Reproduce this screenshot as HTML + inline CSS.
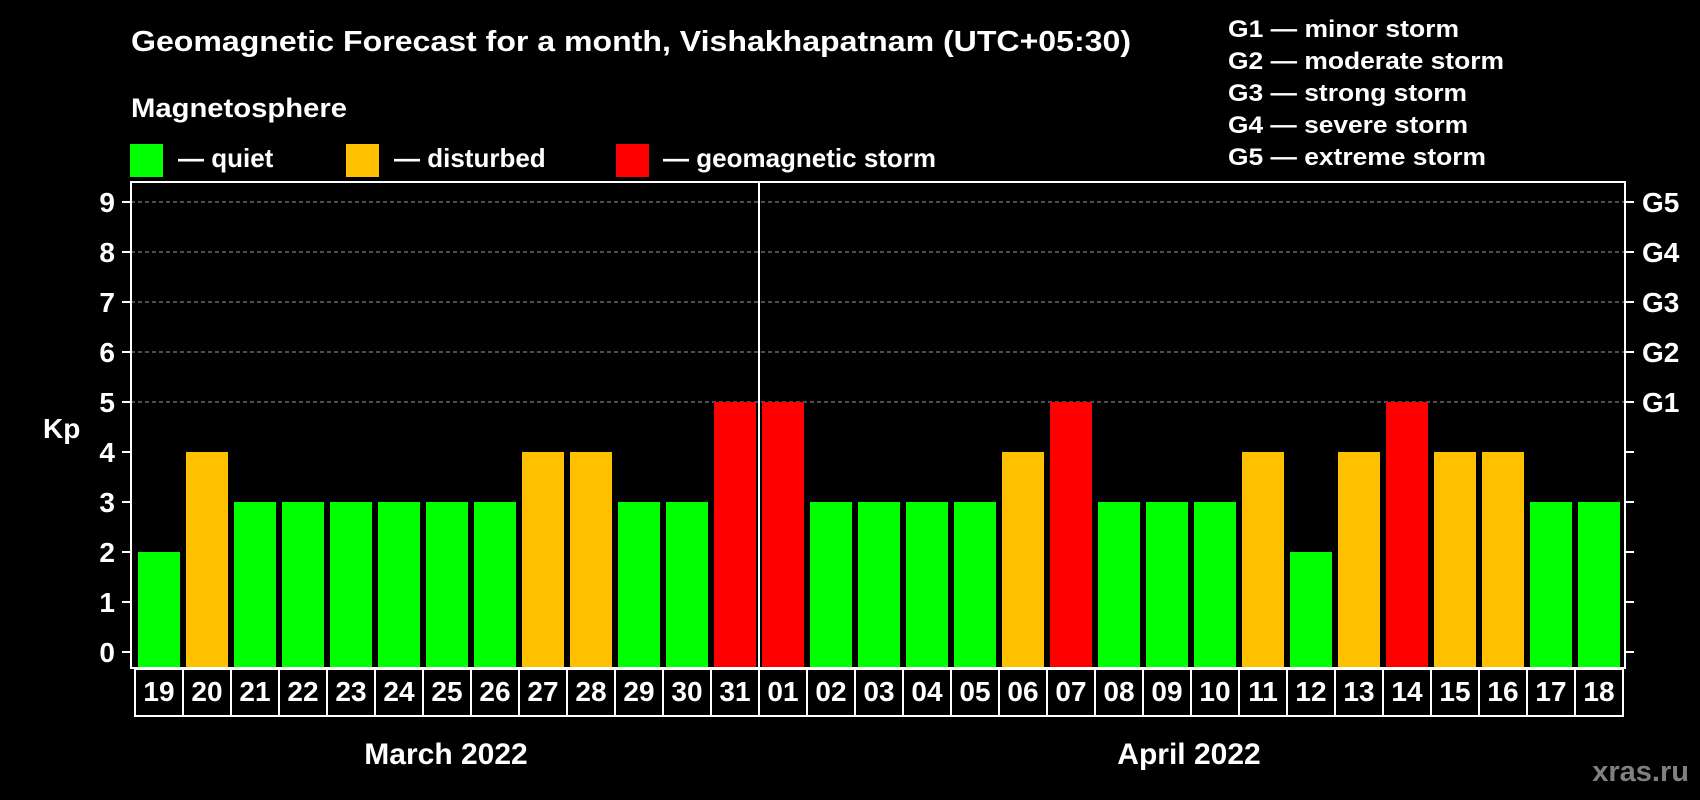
<!DOCTYPE html>
<html><head><meta charset="utf-8"><style>
html,body{margin:0;padding:0;background:#000;width:1700px;height:800px;overflow:hidden}
svg{display:block;font-family:"Liberation Sans",Arial,sans-serif;font-weight:bold}
</style></head><body>
<svg id="chart" width="1700" height="800" viewBox="0 0 1700 800" xmlns="http://www.w3.org/2000/svg">
<rect width="1700" height="800" fill="#000"/>
<text x="131" y="51" fill="#fff" font-size="29" textLength="1000" lengthAdjust="spacingAndGlyphs">Geomagnetic Forecast for a month, Vishakhapatnam (UTC+05:30)</text>
<text x="131" y="117" fill="#fff" font-size="27" textLength="216" lengthAdjust="spacingAndGlyphs">Magnetosphere</text>
<g>
<rect x="130" y="144" width="33" height="33" fill="#00ff00"/>
<text x="178" y="167" fill="#fff" font-size="26">— quiet</text></g>
<g>
<rect x="346" y="144" width="33" height="33" fill="#ffc000"/>
<text x="394" y="167" fill="#fff" font-size="26">— disturbed</text></g>
<g>
<rect x="616" y="144" width="33" height="33" fill="#ff0000"/>
<text x="663" y="167" fill="#fff" font-size="26">— geomagnetic storm</text></g>
<g fill="#fff" font-size="24">
<text x="1228" y="37" textLength="231" lengthAdjust="spacingAndGlyphs">G1 — minor storm</text>
<text x="1228" y="69" textLength="276" lengthAdjust="spacingAndGlyphs">G2 — moderate storm</text>
<text x="1228" y="101" textLength="239" lengthAdjust="spacingAndGlyphs">G3 — strong storm</text>
<text x="1228" y="133" textLength="240" lengthAdjust="spacingAndGlyphs">G4 — severe storm</text>
<text x="1228" y="165" textLength="258" lengthAdjust="spacingAndGlyphs">G5 — extreme storm</text>
</g>
<g id="grid"></g><g id="bars"></g><g id="axes"></g><g id="dates"></g>
<text x="43" y="438" fill="#fff" font-size="28">Kp</text>
<text x="446" y="764" fill="#fff" font-size="30" text-anchor="middle">March 2022</text>
<text x="1189" y="764" fill="#fff" font-size="30" text-anchor="middle">April 2022</text>
<text x="1689" y="781" fill="#808080" font-size="29" text-anchor="end">xras.ru</text>
</svg>
<script>
const days = ["19","20","21","22","23","24","25","26","27","28","29","30","31","01","02","03","04","05","06","07","08","09","10","11","12","13","14","15","16","17","18"];
const kpValues = [2,4,3,3,3,3,3,3,4,4,3,3,5,5,3,3,3,3,4,5,3,3,3,4,2,4,5,4,4,3,3];
const yTicks = [0,1,2,3,4,5,6,7,8,9];
const gLabels = ["G1","G2","G3","G4","G5"];
const NS="http://www.w3.org/2000/svg";
const L=131,R=1625,T=182,B=668;
const y=v=>652-v*50;
const x=i=>138+i*48;
const BW=42;
function mk(t,a,p){const e=document.createElementNS(NS,t);for(const k in a)e.setAttribute(k,a[k]);p.appendChild(e);return e;}
const grid=document.getElementById('grid'),bars=document.getElementById('bars'),axes=document.getElementById('axes'),dates=document.getElementById('dates');
yTicks.forEach(v=>{
  if(v>=5){const g=mk('line',{x1:L,x2:R,y1:y(v),y2:y(v),stroke:'#9a9a9a','stroke-width':1,'stroke-dasharray':'4,3'},grid);
  
  }
  const tl=mk('line',{x1:122,x2:L,y1:y(v),y2:y(v),stroke:'#fff','stroke-width':2},axes);
  
  
  const tr=mk('line',{x1:R,x2:R+9,y1:y(v),y2:y(v),stroke:'#fff','stroke-width':2},axes);
  
  
  const t=mk('text',{x:115,y:y(v)+10,fill:'#fff','font-size':28,'text-anchor':'end'},axes);t.textContent=v;
  
  
  if(v>=5){const g=mk('text',{x:1642,y:y(v)+10,fill:'#fff','font-size':28},axes);g.textContent=gLabels[v-5];
  
  }
});
kpValues.forEach((v,i)=>{
  const c=v>=5?'#ff0000':(v>=4?'#ffc000':'#00ff00');
  const b=mk('rect',{x:x(i),y:y(v),width:BW,height:B-y(v),fill:c},bars);
  
  
  const cell=mk('rect',{x:x(i)-3,y:669,width:48,height:47,fill:'none',stroke:'#fff','stroke-width':2},dates);
  
  
  const t=mk('text',{x:x(i)+BW/2,y:701,fill:'#fff','font-size':28,'text-anchor':'middle'},dates);t.textContent=days[i];
  
  
});
const fr=mk('rect',{x:L,y:T,width:R-L,height:B-T,fill:'none',stroke:'#fff','stroke-width':2},axes);


const di=days.indexOf("01");
const dv=mk('line',{x1:x(di)-3,x2:x(di)-3,y1:T,y2:B,stroke:'#fff','stroke-width':2},axes);


</script>
</body></html>
